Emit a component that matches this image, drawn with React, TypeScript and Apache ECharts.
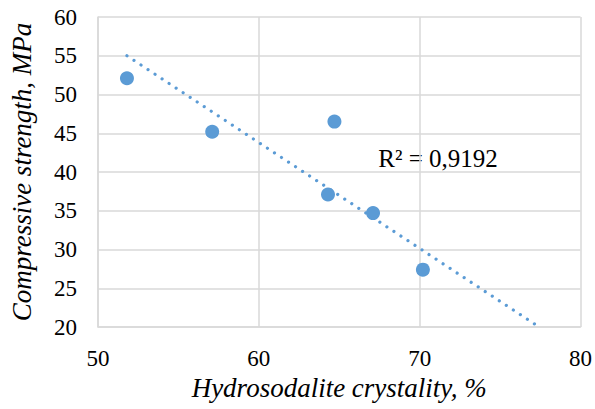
import React, { useEffect, useRef } from "react";
import * as echarts from "echarts";

const crystallinity = [51.8, 57.1, 64.7, 64.3, 67.1, 70.2];
const strength = [52.1, 45.2, 46.5, 37.1, 34.7, 27.4];
const trendX = [51.8, 77.5];
const trendY = [55.0, 19.9];
const xTicks = { min: 50, max: 80, interval: 10 };
const yTicks = { min: 20, max: 60, interval: 5 };
const r2Label = "R² = 0,9192";
const xTitle = "Hydrosodalite crystality, %";
const yTitle = "Compressive strength, MPa";

const BLUE = "#5b9bd5";
const GRID = "#d9d9d9";
const FONT = "Times New Roman, Liberation Serif, serif";

export default function App() {
  const ref = useRef<HTMLDivElement>(null);
  useEffect(() => {
    if (!ref.current) return;
    const chart = echarts.init(ref.current, undefined, { renderer: "svg" });
    const points = crystallinity.map((x, i) => [x, strength[i]]);
    const trend = trendX.map((x, i) => [x, trendY[i]]);
    chart.setOption({
      animation: false,
      backgroundColor: "#fff",
      textStyle: { fontFamily: FONT },
      grid: { left: 95, right: 11, top: 17, bottom: 82, containLabel: false },
      xAxis: {
        type: "value",
        min: xTicks.min,
        max: xTicks.max,
        interval: xTicks.interval,
        name: xTitle,
        nameLocation: "middle",
        nameGap: 42,
        nameTextStyle: { fontFamily: FONT, fontStyle: "italic", fontSize: 27, color: "#000" },
        axisLine: { show: true, lineStyle: { color: GRID, width: 1.5 } },
        axisTick: { show: false },
        axisLabel: { fontFamily: FONT, fontSize: 23, color: "#000", margin: 20 },
        splitLine: { show: true, lineStyle: { color: GRID, width: 1.5 } },
      },
      yAxis: {
        type: "value",
        min: yTicks.min,
        max: yTicks.max,
        interval: yTicks.interval,
        name: yTitle,
        nameLocation: "middle",
        nameGap: 63,
        nameTextStyle: { fontFamily: FONT, fontStyle: "italic", fontSize: 27, color: "#000" },
        axisLine: { show: true, lineStyle: { color: GRID, width: 1.5 } },
        axisTick: { show: false },
        axisLabel: { fontFamily: FONT, fontSize: 23, color: "#000", margin: 21 },
        splitLine: { show: true, lineStyle: { color: GRID, width: 1.5 } },
      },
      series: [
        {
          type: "line",
          data: trend,
          symbol: "none",
          silent: true,
          z: 2,
          clip: true,
          lineStyle: { color: BLUE, width: 3.2, type: [0.01, 8.4], cap: "round" },
        },
        {
          type: "scatter",
          data: points,
          symbol: "circle",
          symbolSize: 14,
          z: 3,
          itemStyle: { color: BLUE, opacity: 1 },
        },
      ],
      graphic: [
        {
          type: "text",
          x: 438,
          y: 158,
          style: {
            text: r2Label,
            fontFamily: FONT,
            fontSize: 25,
            fill: "#000",
            textAlign: "center",
            textVerticalAlign: "middle",
          },
        },
      ],
    });
    return () => chart.dispose();
  }, []);
  return <div ref={ref} style={{ width: 595, height: 409, position: "absolute", left: 0, top: 0 }} />;
}
